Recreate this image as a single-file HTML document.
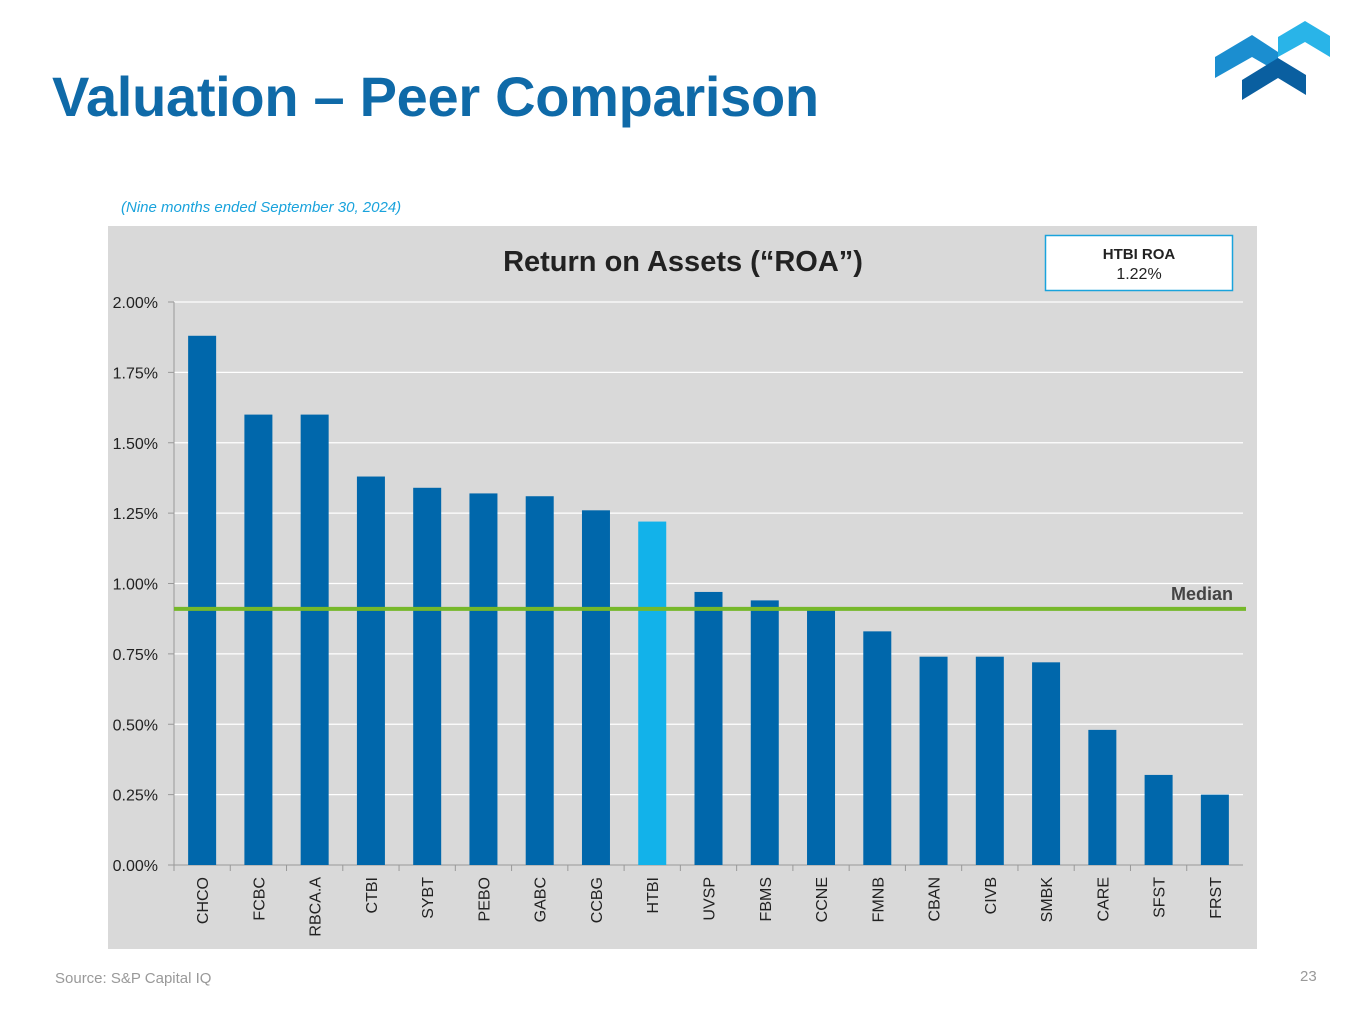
<!DOCTYPE html>
<html><head><meta charset="utf-8"><style>
body{margin:0;width:1365px;height:1024px;background:#fff;font-family:"Liberation Sans",sans-serif;position:relative;overflow:hidden}
.abs{position:absolute}
</style></head><body>
<div class="abs" style="left:52px;top:64px;font-size:56px;font-weight:bold;color:#0f6aa8;letter-spacing:-0.3px">Valuation – Peer Comparison</div>
<svg class="abs" style="left:1200px;top:10px" width="140" height="100">
<polygon points="15,47 52,25 78,42 78,62 52,47 15,68" fill="#1b8ed0"/>
<polygon points="78,27 105,11 130,26 130,47 105,32 78,47" fill="#29b4e8"/>
<polygon points="42,70 78,48 106,65 106,85 78,68 42,90" fill="#0a5fa0"/>
</svg>
<div class="abs" style="left:121px;top:199px;font-size:15px;font-style:italic;color:#1aa3dc">(Nine months ended September 30, 2024)</div>
<svg class="abs" style="left:0;top:0" width="1365" height="1024" id="chart">
<rect x="108" y="226" width="1149" height="723" fill="#d9d9d9"/>
<text x="683" y="271" text-anchor="middle" font-size="29" font-weight="bold" fill="#222">Return on Assets (“ROA”)</text>
<rect x="1045.5" y="235.5" width="187" height="55" fill="#fff" stroke="#1aa3dc" stroke-width="1.5"/>
<text x="1139" y="259" text-anchor="middle" font-size="15" font-weight="bold" fill="#222">HTBI ROA</text>
<text x="1139" y="279" text-anchor="middle" font-size="16" fill="#222">1.22%</text>
<g id="g"></g>
</svg>
<div class="abs" style="left:55px;top:970px;font-size:15px;color:#999">Source: S&amp;P Capital IQ</div>
<div class="abs" style="left:1300px;top:968px;font-size:15px;color:#999">23</div>
<script>
const categories=["CHCO","FCBC","RBCA.A","CTBI","SYBT","PEBO","GABC","CCBG","HTBI","UVSP","FBMS","CCNE","FMNB","CBAN","CIVB","SMBK","CARE","SFST","FRST"];
const roaValues=[1.88,1.60,1.60,1.38,1.34,1.32,1.31,1.26,1.22,0.97,0.94,0.91,0.83,0.74,0.74,0.72,0.48,0.32,0.25];
const medianValue=0.91;
const yTicks=[0,0.25,0.5,0.75,1.0,1.25,1.5,1.75,2.0];
const highlight="HTBI";
const NS="http://www.w3.org/2000/svg",g=document.getElementById('g');
const x0=174,x1=1243,y0=865,y1=302,yMax=2;
const y=v=>y0-(v/yMax)*(y0-y1);
const step=(x1-x0)/categories.length;
const xc=i=>x0+step*(i+0.5);
function mk(t,a){const e=document.createElementNS(NS,t);for(const k in a)e.setAttribute(k,a[k]);g.appendChild(e);return e;}
yTicks.forEach(t=>{
 if(t>0){const l=mk('line',{x1:x0,x2:x1,y1:y(t),y2:y(t),stroke:'#fff','stroke-width':1.3});
 
 }
 const tx=mk('text',{x:158,y:y(t)+6,'text-anchor':'end','font-size':16,fill:'#222'});tx.textContent=t.toFixed(2)+'%';
 
 
 mk('line',{x1:168,x2:x0,y1:y(t),y2:y(t),stroke:'#999'});
});
mk('line',{x1:x0,x2:x0,y1:y1,y2:y0,stroke:'#999'});
mk('line',{x1:x0,x2:x1,y1:y0,y2:y0,stroke:'#999'});
categories.forEach((c,i)=>{
 mk('line',{x1:x0+step*i,x2:x0+step*i,y1:y0,y2:y0+6,stroke:'#999'});
 const b=mk('rect',{x:xc(i)-14,width:28,y:y(roaValues[i]),height:y0-y(roaValues[i]),fill:c===highlight?'#12b2ea':'#0067ab'});
 
 
 const t=mk('text',{x:0,y:0,'text-anchor':'end','font-size':16,fill:'#222',transform:`translate(${xc(i)+6},${y0+12}) rotate(-90)`});
 t.textContent=c;
 
 
});
const m=mk('line',{x1:x0,x2:1246,y1:y(medianValue),y2:y(medianValue),stroke:'#76b82a','stroke-width':4});


const mt=mk('text',{x:1233,y:y(medianValue)-9,'text-anchor':'end','font-size':18,'font-weight':'bold',fill:'#444'});
mt.textContent='Median';


</script>
</body></html>
